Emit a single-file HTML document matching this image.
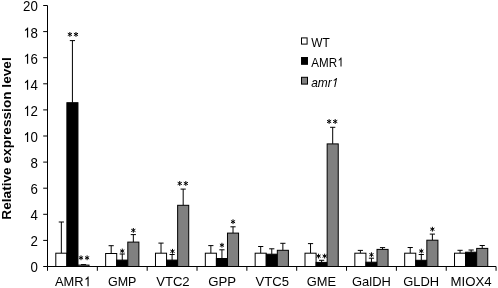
<!DOCTYPE html>
<html><head><meta charset="utf-8"><style>
html,body{margin:0;padding:0;background:#fff;width:498px;height:288px;overflow:hidden}
svg{display:block;will-change:transform}
text{font-family:"Liberation Sans",sans-serif;fill:#000;font-kerning:none}
.tk{font-size:14px;text-anchor:end}
.cat{font-size:13.6px;text-anchor:middle}
.lg{font-size:12.5px}
.st{font-size:13.5px;text-anchor:middle}
.ttl{font-size:13.67px;font-weight:bold;text-anchor:middle}
</style></head><body>
<svg width="498" height="288" viewBox="0 0 498 288">
<line x1="61.34" y1="253.20" x2="61.34" y2="222.00" stroke="#000" stroke-width="1"/>
<line x1="58.74" y1="222.00" x2="63.94" y2="222.00" stroke="#000" stroke-width="1"/>
<rect x="55.80" y="253.20" width="11.08" height="13.30" fill="#ffffff" stroke="#000" stroke-width="1"/>
<line x1="72.42" y1="102.70" x2="72.42" y2="40.60" stroke="#000" stroke-width="1"/>
<line x1="69.82" y1="40.60" x2="75.02" y2="40.60" stroke="#000" stroke-width="1"/>
<rect x="66.88" y="102.70" width="11.08" height="163.80" fill="#000000" stroke="#000" stroke-width="1"/>
<path d="M69.87 36.80L69.87 32.00M67.79 35.60L71.95 33.20M71.95 35.60L67.79 33.20" stroke="#000" stroke-width="1.0" fill="none"/>
<path d="M75.97 36.80L75.97 32.00M73.89 35.60L78.05 33.20M78.05 35.60L73.89 33.20" stroke="#000" stroke-width="1.0" fill="none"/>
<line x1="83.50" y1="265.10" x2="83.50" y2="264.60" stroke="#000" stroke-width="1"/>
<line x1="80.90" y1="264.60" x2="86.10" y2="264.60" stroke="#000" stroke-width="1"/>
<rect x="77.96" y="265.10" width="11.08" height="1.40" fill="#808080" stroke="#000" stroke-width="1"/>
<path d="M81.00 260.20L81.00 255.40M78.92 259.00L83.08 256.60M83.08 259.00L78.92 256.60" stroke="#000" stroke-width="1.0" fill="none"/>
<path d="M87.10 260.20L87.10 255.40M85.02 259.00L89.18 256.60M89.18 259.00L85.02 256.60" stroke="#000" stroke-width="1.0" fill="none"/>
<line x1="111.18" y1="253.50" x2="111.18" y2="245.70" stroke="#000" stroke-width="1"/>
<line x1="108.58" y1="245.70" x2="113.78" y2="245.70" stroke="#000" stroke-width="1"/>
<rect x="105.64" y="253.50" width="11.08" height="13.00" fill="#ffffff" stroke="#000" stroke-width="1"/>
<line x1="122.26" y1="260.10" x2="122.26" y2="254.00" stroke="#000" stroke-width="1"/>
<line x1="119.66" y1="254.00" x2="124.86" y2="254.00" stroke="#000" stroke-width="1"/>
<rect x="116.72" y="260.10" width="11.08" height="6.40" fill="#000000" stroke="#000" stroke-width="1"/>
<path d="M122.26 253.40L122.26 248.60M120.18 252.20L124.34 249.80M124.34 252.20L120.18 249.80" stroke="#000" stroke-width="1.0" fill="none"/>
<line x1="133.34" y1="242.10" x2="133.34" y2="234.60" stroke="#000" stroke-width="1"/>
<line x1="130.74" y1="234.60" x2="135.94" y2="234.60" stroke="#000" stroke-width="1"/>
<rect x="127.80" y="242.10" width="11.08" height="24.40" fill="#808080" stroke="#000" stroke-width="1"/>
<path d="M133.34 232.80L133.34 228.00M131.26 231.60L135.42 229.20M135.42 231.60L131.26 229.20" stroke="#000" stroke-width="1.0" fill="none"/>
<line x1="161.02" y1="253.20" x2="161.02" y2="243.10" stroke="#000" stroke-width="1"/>
<line x1="158.42" y1="243.10" x2="163.62" y2="243.10" stroke="#000" stroke-width="1"/>
<rect x="155.48" y="253.20" width="11.08" height="13.30" fill="#ffffff" stroke="#000" stroke-width="1"/>
<line x1="172.10" y1="260.10" x2="172.10" y2="254.50" stroke="#000" stroke-width="1"/>
<line x1="169.50" y1="254.50" x2="174.70" y2="254.50" stroke="#000" stroke-width="1"/>
<rect x="166.56" y="260.10" width="11.08" height="6.40" fill="#000000" stroke="#000" stroke-width="1"/>
<path d="M172.50 253.70L172.50 248.90M170.42 252.50L174.58 250.10M174.58 252.50L170.42 250.10" stroke="#000" stroke-width="1.0" fill="none"/>
<line x1="183.18" y1="205.30" x2="183.18" y2="189.10" stroke="#000" stroke-width="1"/>
<line x1="180.58" y1="189.10" x2="185.78" y2="189.10" stroke="#000" stroke-width="1"/>
<rect x="177.64" y="205.30" width="11.08" height="61.20" fill="#808080" stroke="#000" stroke-width="1"/>
<path d="M179.73 185.85L179.73 181.05M177.65 184.65L181.81 182.25M181.81 184.65L177.65 182.25" stroke="#000" stroke-width="1.0" fill="none"/>
<path d="M185.83 185.85L185.83 181.05M183.75 184.65L187.91 182.25M187.91 184.65L183.75 182.25" stroke="#000" stroke-width="1.0" fill="none"/>
<line x1="210.86" y1="253.20" x2="210.86" y2="245.60" stroke="#000" stroke-width="1"/>
<line x1="208.26" y1="245.60" x2="213.46" y2="245.60" stroke="#000" stroke-width="1"/>
<rect x="205.32" y="253.20" width="11.08" height="13.30" fill="#ffffff" stroke="#000" stroke-width="1"/>
<line x1="221.94" y1="258.50" x2="221.94" y2="249.80" stroke="#000" stroke-width="1"/>
<line x1="219.34" y1="249.80" x2="224.54" y2="249.80" stroke="#000" stroke-width="1"/>
<rect x="216.40" y="258.50" width="11.08" height="8.00" fill="#000000" stroke="#000" stroke-width="1"/>
<path d="M221.94 247.60L221.94 242.80M219.86 246.40L224.02 244.00M224.02 246.40L219.86 244.00" stroke="#000" stroke-width="1.0" fill="none"/>
<line x1="233.02" y1="233.10" x2="233.02" y2="226.80" stroke="#000" stroke-width="1"/>
<line x1="230.42" y1="226.80" x2="235.62" y2="226.80" stroke="#000" stroke-width="1"/>
<rect x="227.48" y="233.10" width="11.08" height="33.40" fill="#808080" stroke="#000" stroke-width="1"/>
<path d="M233.02 224.10L233.02 219.30M230.94 222.90L235.10 220.50M235.10 222.90L230.94 220.50" stroke="#000" stroke-width="1.0" fill="none"/>
<line x1="260.70" y1="253.20" x2="260.70" y2="246.50" stroke="#000" stroke-width="1"/>
<line x1="258.10" y1="246.50" x2="263.30" y2="246.50" stroke="#000" stroke-width="1"/>
<rect x="255.16" y="253.20" width="11.08" height="13.30" fill="#ffffff" stroke="#000" stroke-width="1"/>
<line x1="271.78" y1="254.20" x2="271.78" y2="248.80" stroke="#000" stroke-width="1"/>
<line x1="269.18" y1="248.80" x2="274.38" y2="248.80" stroke="#000" stroke-width="1"/>
<rect x="266.24" y="254.20" width="11.08" height="12.30" fill="#000000" stroke="#000" stroke-width="1"/>
<line x1="282.86" y1="250.30" x2="282.86" y2="243.30" stroke="#000" stroke-width="1"/>
<line x1="280.26" y1="243.30" x2="285.46" y2="243.30" stroke="#000" stroke-width="1"/>
<rect x="277.32" y="250.30" width="11.08" height="16.20" fill="#808080" stroke="#000" stroke-width="1"/>
<line x1="310.54" y1="253.20" x2="310.54" y2="243.60" stroke="#000" stroke-width="1"/>
<line x1="307.94" y1="243.60" x2="313.14" y2="243.60" stroke="#000" stroke-width="1"/>
<rect x="305.00" y="253.20" width="11.08" height="13.30" fill="#ffffff" stroke="#000" stroke-width="1"/>
<line x1="321.62" y1="262.40" x2="321.62" y2="260.30" stroke="#000" stroke-width="1"/>
<line x1="319.02" y1="260.30" x2="324.22" y2="260.30" stroke="#000" stroke-width="1"/>
<rect x="316.08" y="262.40" width="11.08" height="4.10" fill="#000000" stroke="#000" stroke-width="1"/>
<path d="M318.57 258.50L318.57 253.70M316.49 257.30L320.65 254.90M320.65 257.30L316.49 254.90" stroke="#000" stroke-width="1.0" fill="none"/>
<path d="M324.67 258.50L324.67 253.70M322.59 257.30L326.75 254.90M326.75 257.30L322.59 254.90" stroke="#000" stroke-width="1.0" fill="none"/>
<line x1="332.70" y1="143.90" x2="332.70" y2="127.30" stroke="#000" stroke-width="1"/>
<line x1="330.10" y1="127.30" x2="335.30" y2="127.30" stroke="#000" stroke-width="1"/>
<rect x="327.16" y="143.90" width="11.08" height="122.60" fill="#808080" stroke="#000" stroke-width="1"/>
<path d="M329.10 123.90L329.10 119.10M327.02 122.70L331.18 120.30M331.18 122.70L327.02 120.30" stroke="#000" stroke-width="1.0" fill="none"/>
<path d="M335.20 123.90L335.20 119.10M333.12 122.70L337.28 120.30M337.28 122.70L333.12 120.30" stroke="#000" stroke-width="1.0" fill="none"/>
<line x1="360.38" y1="253.20" x2="360.38" y2="250.40" stroke="#000" stroke-width="1"/>
<line x1="357.78" y1="250.40" x2="362.98" y2="250.40" stroke="#000" stroke-width="1"/>
<rect x="354.84" y="253.20" width="11.08" height="13.30" fill="#ffffff" stroke="#000" stroke-width="1"/>
<line x1="371.46" y1="262.20" x2="371.46" y2="258.20" stroke="#000" stroke-width="1"/>
<line x1="368.86" y1="258.20" x2="374.06" y2="258.20" stroke="#000" stroke-width="1"/>
<rect x="365.92" y="262.20" width="11.08" height="4.30" fill="#000000" stroke="#000" stroke-width="1"/>
<path d="M371.46 257.10L371.46 252.30M369.38 255.90L373.54 253.50M373.54 255.90L369.38 253.50" stroke="#000" stroke-width="1.0" fill="none"/>
<line x1="382.54" y1="249.40" x2="382.54" y2="247.60" stroke="#000" stroke-width="1"/>
<line x1="379.94" y1="247.60" x2="385.14" y2="247.60" stroke="#000" stroke-width="1"/>
<rect x="377.00" y="249.40" width="11.08" height="17.10" fill="#808080" stroke="#000" stroke-width="1"/>
<line x1="410.22" y1="253.20" x2="410.22" y2="247.50" stroke="#000" stroke-width="1"/>
<line x1="407.62" y1="247.50" x2="412.82" y2="247.50" stroke="#000" stroke-width="1"/>
<rect x="404.68" y="253.20" width="11.08" height="13.30" fill="#ffffff" stroke="#000" stroke-width="1"/>
<line x1="421.30" y1="260.30" x2="421.30" y2="254.50" stroke="#000" stroke-width="1"/>
<line x1="418.70" y1="254.50" x2="423.90" y2="254.50" stroke="#000" stroke-width="1"/>
<rect x="415.76" y="260.30" width="11.08" height="6.20" fill="#000000" stroke="#000" stroke-width="1"/>
<path d="M421.30 253.50L421.30 248.70M419.22 252.30L423.38 249.90M423.38 252.30L419.22 249.90" stroke="#000" stroke-width="1.0" fill="none"/>
<line x1="432.38" y1="240.20" x2="432.38" y2="234.10" stroke="#000" stroke-width="1"/>
<line x1="429.78" y1="234.10" x2="434.98" y2="234.10" stroke="#000" stroke-width="1"/>
<rect x="426.84" y="240.20" width="11.08" height="26.30" fill="#808080" stroke="#000" stroke-width="1"/>
<path d="M432.38 231.60L432.38 226.80M430.30 230.40L434.46 228.00M434.46 230.40L430.30 228.00" stroke="#000" stroke-width="1.0" fill="none"/>
<line x1="460.06" y1="253.20" x2="460.06" y2="250.30" stroke="#000" stroke-width="1"/>
<line x1="457.46" y1="250.30" x2="462.66" y2="250.30" stroke="#000" stroke-width="1"/>
<rect x="454.52" y="253.20" width="11.08" height="13.30" fill="#ffffff" stroke="#000" stroke-width="1"/>
<line x1="471.14" y1="252.20" x2="471.14" y2="250.00" stroke="#000" stroke-width="1"/>
<line x1="468.54" y1="250.00" x2="473.74" y2="250.00" stroke="#000" stroke-width="1"/>
<rect x="465.60" y="252.20" width="11.08" height="14.30" fill="#000000" stroke="#000" stroke-width="1"/>
<line x1="482.22" y1="248.40" x2="482.22" y2="245.50" stroke="#000" stroke-width="1"/>
<line x1="479.62" y1="245.50" x2="484.82" y2="245.50" stroke="#000" stroke-width="1"/>
<rect x="476.68" y="248.40" width="11.08" height="18.10" fill="#808080" stroke="#000" stroke-width="1"/>
<line x1="47.5" y1="5.5" x2="47.5" y2="266.5" stroke="#000" stroke-width="1"/>
<line x1="47.5" y1="266.5" x2="496.06" y2="266.5" stroke="#000" stroke-width="1"/>
<line x1="43.2" y1="266.50" x2="47.5" y2="266.50" stroke="#000" stroke-width="1"/>
<text transform="translate(37.80,271.70) scale(0.95,1)" class="tk">0</text>
<line x1="43.2" y1="240.40" x2="47.5" y2="240.40" stroke="#000" stroke-width="1"/>
<text transform="translate(37.80,246.40) scale(0.95,1)" class="tk">2</text>
<line x1="43.2" y1="214.30" x2="47.5" y2="214.30" stroke="#000" stroke-width="1"/>
<text transform="translate(37.80,220.30) scale(0.95,1)" class="tk">4</text>
<line x1="43.2" y1="188.20" x2="47.5" y2="188.20" stroke="#000" stroke-width="1"/>
<text transform="translate(37.80,194.20) scale(0.95,1)" class="tk">6</text>
<line x1="43.2" y1="162.10" x2="47.5" y2="162.10" stroke="#000" stroke-width="1"/>
<text transform="translate(37.80,168.10) scale(0.95,1)" class="tk">8</text>
<line x1="43.2" y1="136.00" x2="47.5" y2="136.00" stroke="#000" stroke-width="1"/>
<text transform="translate(37.80,142.00) scale(0.95,1)" class="tk"> 0</text><path transform="translate(23.006,142.00) scale(0.00649,-0.00684)" d="M790 0H610V1147Q550 1090 460 1035T300 955V1120Q410 1180 510 1276T674 1466H790V0Z"/>
<line x1="43.2" y1="109.90" x2="47.5" y2="109.90" stroke="#000" stroke-width="1"/>
<text transform="translate(37.80,115.90) scale(0.95,1)" class="tk"> 2</text><path transform="translate(23.006,115.90) scale(0.00649,-0.00684)" d="M790 0H610V1147Q550 1090 460 1035T300 955V1120Q410 1180 510 1276T674 1466H790V0Z"/>
<line x1="43.2" y1="83.80" x2="47.5" y2="83.80" stroke="#000" stroke-width="1"/>
<text transform="translate(37.80,89.80) scale(0.95,1)" class="tk"> 4</text><path transform="translate(23.006,89.80) scale(0.00649,-0.00684)" d="M790 0H610V1147Q550 1090 460 1035T300 955V1120Q410 1180 510 1276T674 1466H790V0Z"/>
<line x1="43.2" y1="57.70" x2="47.5" y2="57.70" stroke="#000" stroke-width="1"/>
<text transform="translate(37.80,63.70) scale(0.95,1)" class="tk"> 6</text><path transform="translate(23.006,63.70) scale(0.00649,-0.00684)" d="M790 0H610V1147Q550 1090 460 1035T300 955V1120Q410 1180 510 1276T674 1466H790V0Z"/>
<line x1="43.2" y1="31.60" x2="47.5" y2="31.60" stroke="#000" stroke-width="1"/>
<text transform="translate(37.80,37.60) scale(0.95,1)" class="tk"> 8</text><path transform="translate(23.006,37.60) scale(0.00649,-0.00684)" d="M790 0H610V1147Q550 1090 460 1035T300 955V1120Q410 1180 510 1276T674 1466H790V0Z"/>
<line x1="43.2" y1="5.50" x2="47.5" y2="5.50" stroke="#000" stroke-width="1"/>
<text transform="translate(37.80,10.90) scale(0.95,1)" class="tk">20</text>
<line x1="47.50" y1="266.5" x2="47.50" y2="270.8" stroke="#000" stroke-width="1"/>
<line x1="97.34" y1="266.5" x2="97.34" y2="270.8" stroke="#000" stroke-width="1"/>
<line x1="147.18" y1="266.5" x2="147.18" y2="270.8" stroke="#000" stroke-width="1"/>
<line x1="197.02" y1="266.5" x2="197.02" y2="270.8" stroke="#000" stroke-width="1"/>
<line x1="246.86" y1="266.5" x2="246.86" y2="270.8" stroke="#000" stroke-width="1"/>
<line x1="296.70" y1="266.5" x2="296.70" y2="270.8" stroke="#000" stroke-width="1"/>
<line x1="346.54" y1="266.5" x2="346.54" y2="270.8" stroke="#000" stroke-width="1"/>
<line x1="396.38" y1="266.5" x2="396.38" y2="270.8" stroke="#000" stroke-width="1"/>
<line x1="446.22" y1="266.5" x2="446.22" y2="270.8" stroke="#000" stroke-width="1"/>
<line x1="496.06" y1="266.5" x2="496.06" y2="270.8" stroke="#000" stroke-width="1"/>
<text transform="translate(72.92,286.30) scale(0.9467,1)" class="cat">AMR </text><path transform="translate(83.645,286.30) scale(0.00629,-0.00664)" d="M790 0H610V1147Q550 1090 460 1035T300 955V1120Q410 1180 510 1276T674 1466H790V0Z"/>
<text transform="translate(122.16,286.30) scale(0.9191,1)" class="cat">GMP</text>
<text transform="translate(172.90,286.30) scale(0.9651,1)" class="cat">VTC2</text>
<text transform="translate(222.24,286.30) scale(0.9715,1)" class="cat">GPP</text>
<text transform="translate(272.23,286.30) scale(0.9632,1)" class="cat">VTC5</text>
<text transform="translate(321.52,286.30) scale(0.9467,1)" class="cat">GME</text>
<text transform="translate(371.46,286.30) scale(0.9522,1)" class="cat">GalDH</text>
<text transform="translate(421.15,286.30) scale(0.9494,1)" class="cat">GLDH</text>
<text transform="translate(471.14,286.30) scale(0.9724,1)" class="cat">MIOX4</text>
<rect x="301.5" y="37.9" width="5.6" height="6.2" fill="#ffffff" stroke="#000" stroke-width="1"/>
<text transform="translate(311.20,46.70) scale(0.955,1)" class="lg">WT</text>
<rect x="301.5" y="57.5" width="6" height="6.8" fill="#000000" stroke="#000" stroke-width="1"/>
<text transform="translate(311.20,66.50) scale(0.93,1)" class="lg">AMR </text><path transform="translate(337.033,66.50) scale(0.00568,-0.00610)" d="M790 0H610V1147Q550 1090 460 1035T300 955V1120Q410 1180 510 1276T674 1466H790V0Z"/>
<rect x="301.5" y="77.3" width="6" height="6.8" fill="#808080" stroke="#000" stroke-width="1"/>
<text transform="translate(311.20,86.90) scale(0.955,1)" class="lg" style="font-style:italic">amr </text><path transform="translate(331.758,86.90) scale(0.00583,-0.00610) skewX(12)" d="M600 0H420V1147Q360 1090 270 1035T110 955V1120Q220 1180 320 1276T484 1466H600V0Z"/>
<text transform="translate(10.6,138.5) rotate(-90)" class="ttl">Relative expression level</text>
</svg>
</body></html>
